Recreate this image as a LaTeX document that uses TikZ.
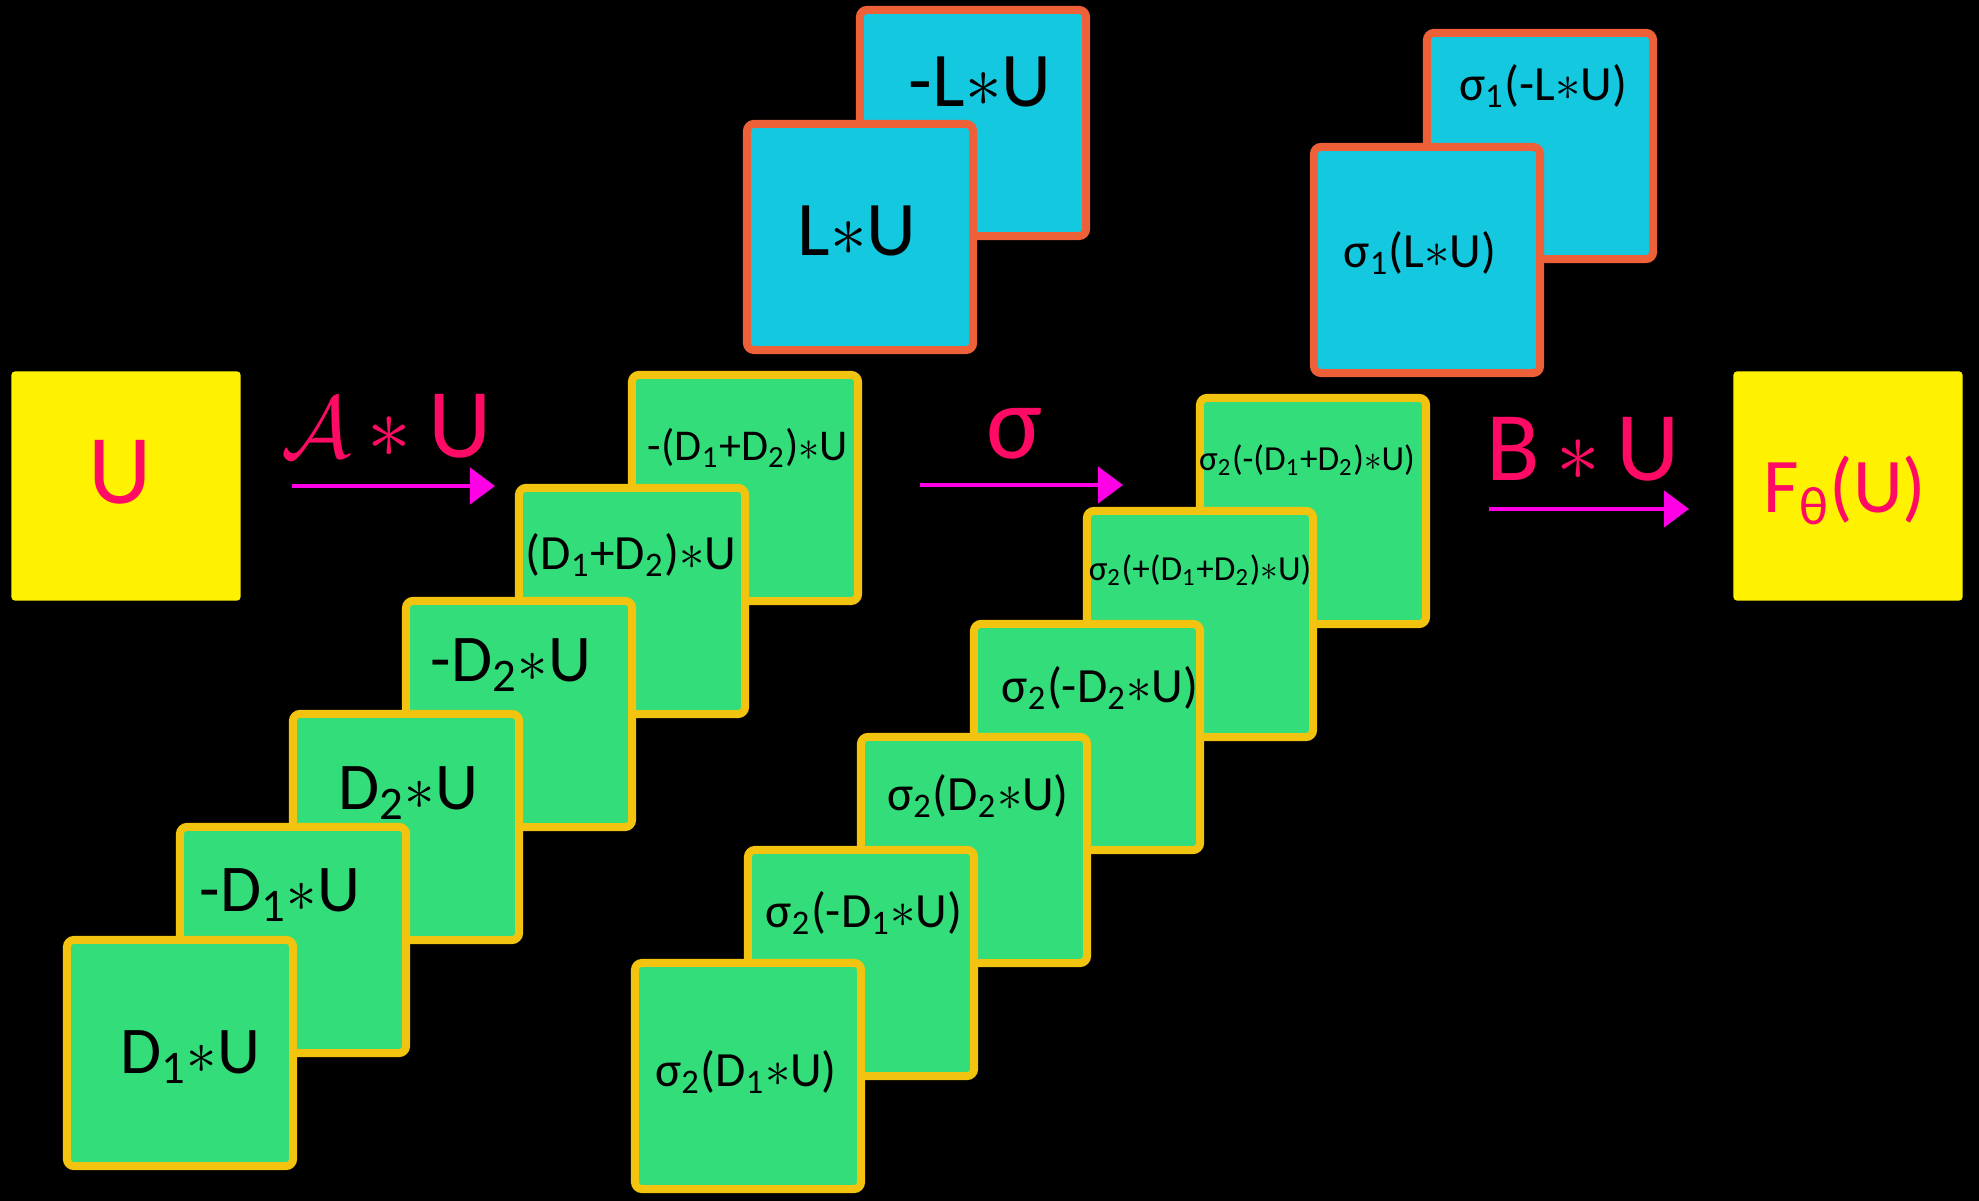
\documentclass[tikz,border=0pt]{standalone}
\usepackage{fontspec}
\setmainfont{Carlito}
\usepackage{tikz}
\usetikzlibrary{arrows.meta, positioning}

\definecolor{boxgreen}{RGB}{51,221,122}
\definecolor{boxedge}{RGB}{242,196,15}
\definecolor{boxcyan}{RGB}{20,200,224}
\definecolor{cyanedge}{RGB}{238,96,56}
\definecolor{inkpink}{RGB}{255,10,100}
\definecolor{arrpink}{RGB}{255,0,230}

\begin{document}
\begin{tikzpicture}[
    x=0.01cm, y=-0.01cm,
    gbox/.style={rectangle, draw=boxedge, fill=boxgreen, line width=0.08cm, rounded corners=2pt, minimum width=2.26cm, minimum height=2.26cm},
    cbox/.style={gbox, draw=cyanedge, fill=boxcyan},
    ybox/.style={rectangle, fill=yellow, rounded corners=1pt, minimum width=2.29cm, minimum height=2.29cm},
    lbl/.style={inner sep=0pt, text=black, font=\fontsize{19}{22}\selectfont},
    lblm/.style={lbl, font=\fontsize{14}{17}\selectfont},
    lbls/.style={lbl, font=\fontsize{10}{12}\selectfont},
    pinklbl/.style={inner sep=0pt, text=inkpink, font=\fontsize{28}{32}\selectfont},
    arr/.style={-{Triangle[length=2.5mm, width=3.6mm]}, line width=0.045cm, draw=arrpink}
]
\fill[black] (0,0) rectangle (1979,1201);
\useasboundingbox (0,0) rectangle (1979,1201);

% Input
\node[ybox] (inp) at (126,486) {};
\node[pinklbl] (inpt) at ([shift={(-6,-14)}]inp.center) {U};

% Operator A applied to U
\node[gbox] (l6) at (745,488) {};
\node[lblm, font=\fontsize{12.5}{15}\selectfont] (l6t) at ([shift={(3,-40)}]l6.center) {-(D\textsubscript{1}+D\textsubscript{2})$\ast$U};
\node[gbox] (l5) at (632,601) {};
\node[lblm] (l5t) at ([shift={(-1,-46)}]l5.center) {(D\textsubscript{1}+D\textsubscript{2})$\ast$U};
\node[gbox] (l4) at (519,714) {};
\node[lbl] (l4t) at ([shift={(-8,-49)}]l4.center) {-D\textsubscript{2}$\ast$U};
\node[gbox] (l3) at (406,827) {};
\node[lbl] (l3t) at ([shift={(2,-34)}]l3.center) {D\textsubscript{2}$\ast$U};
\node[gbox] (l2) at (293,940) {};
\node[lbl] (l2t) at ([shift={(-13,-45)}]l2.center) {-D\textsubscript{1}$\ast$U};
\node[gbox] (l1) at (180,1053) {};
\node[lbl] (l1t) at ([shift={(10,4)}]l1.center) {D\textsubscript{1}$\ast$U};

\node[cbox] (c2) at (973,123) {};
\node[lbl, font=\fontsize{22}{26}\selectfont] (c2t) at ([shift={(7,-41)}]c2.center) {-L$\ast$U};
\node[cbox] (c1) at (860,237) {};
\node[lbl, font=\fontsize{22}{26}\selectfont] (c1t) at ([shift={(-3,-6)}]c1.center) {L$\ast$U};

% Activations
\node[gbox] (m6) at (1313,511) {};
\node[lbls] (m6t) at ([shift={(-6,-51)}]m6.center) {σ\textsubscript{2}(-(D\textsubscript{1}+D\textsubscript{2})$\ast$U)};
\node[gbox] (m5) at (1200,624) {};
\node[lbls] (m5t) at ([shift={(0,-54)}]m5.center) {σ\textsubscript{2}(+(D\textsubscript{1}+D\textsubscript{2})$\ast$U)};
\node[gbox] (m4) at (1087,737) {};
\node[lblm] (m4t) at ([shift={(13,-49)}]m4.center) {σ\textsubscript{2}(-D\textsubscript{2}$\ast$U)};
\node[gbox] (m3) at (974,850) {};
\node[lblm] (m3t) at ([shift={(4,-54)}]m3.center) {σ\textsubscript{2}(D\textsubscript{2}$\ast$U)};
\node[gbox] (m2) at (861,963) {};
\node[lblm] (m2t) at ([shift={(3,-50)}]m2.center) {σ\textsubscript{2}(-D\textsubscript{1}$\ast$U)};
\node[gbox] (m1) at (748,1076) {};
\node[lblm] (m1t) at ([shift={(-2,-4)}]m1.center) {σ\textsubscript{2}(D\textsubscript{1}$\ast$U)};

\node[cbox] (s2) at (1540,146) {};
\node[lblm] (s2t) at ([shift={(3,-60)}]s2.center) {σ\textsubscript{1}(-L$\ast$U)};
\node[cbox] (s1) at (1427,260) {};
\node[lblm] (s1t) at ([shift={(-7,-7)}]s1.center) {σ\textsubscript{1}(L$\ast$U)};

% Output
\node[ybox] (out) at (1848,486) {};
\node[pinklbl, font=\fontsize{22}{26}\selectfont] (outt) at ([shift={(-3,4)}]out.center) {F\textsubscript{θ}(U)};

% Arrows
\coordinate (a1s) at (292,486);
\coordinate (a1e) at (495,486);
\coordinate (a2s) at (920,485);
\coordinate (a2e) at (1123,485);
\coordinate (a3s) at (1489,509);
\coordinate (a3e) at (1689,509);
\draw[arr] (a1s) -- node[pinklbl, above=0.26cm, xshift=-0.07cm] (a1l) {$\mathcal{A}$\,$\ast$\,U} (a1e);
\draw[arr] (a2s) -- node[pinklbl, above=0.24cm, xshift=-0.07cm, font=\fontsize{30}{34}\selectfont] (a2l) {σ} (a2e);
\draw[arr] (a3s) -- node[pinklbl, above=0.26cm, xshift=-0.06cm] (a3l) {B\,$\ast$\,U} (a3e);

\end{tikzpicture}
\end{document}
